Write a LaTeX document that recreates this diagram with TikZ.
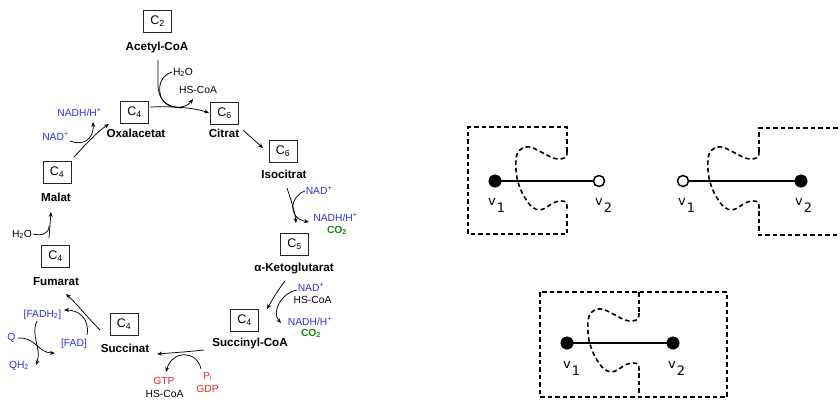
\documentclass[tikz,border=0pt]{standalone}
\usepackage{fontspec}
\setmainfont{Liberation Sans}
\newfontfamily\dejavu{DejaVu Sans}
\usetikzlibrary{arrows.meta}
\definecolor{cblue}{RGB}{45,45,235}
\definecolor{cgreen}{RGB}{20,130,20}
\definecolor{cred}{RGB}{235,35,35}
\begin{document}
\begin{tikzpicture}[x=1pt,y=-1pt,
 cbox/.style={draw=black!85,line width=0.9pt,minimum width=28pt,minimum height=22pt,inner sep=0pt,font=\fontsize{12.5}{14}\selectfont},
 mol/.style={anchor=base,inner sep=0pt,font=\fontsize{11.6}{13}\selectfont\bfseries},
 co/.style={anchor=base,inner sep=0pt,font=\fontsize{10.3}{12}\selectfont},
 cob/.style={co,text=cblue},
 cog/.style={co,text=cgreen,font=\fontsize{10.3}{12}\selectfont\bfseries},
 cor/.style={co,text=cred},
 rx/.style={line width=0.75pt,-{Stealth[length=5pt,width=4pt]}},
 rxl/.style={line width=0.75pt},
 bound/.style={line width=1.6pt,dash pattern=on 4.5pt off 3pt},
 gedge/.style={line width=1.6pt},
 vfill/.style={circle,draw,fill=black,minimum size=12.5pt,inner sep=0pt},
 vopen/.style={circle,draw,fill=white,line width=1.5pt,minimum size=11pt,inner sep=0pt},
 vlab/.style={anchor=base west,inner sep=0pt,font=\dejavu\fontsize{13}{15}\selectfont},
 wave/.pic={\draw[bound] plot[smooth,tension=0.55] coordinates {(0,-30) (-1,-24) (-7,-22) (-14,-23) (-24,-28) (-34,-33) (-42,-34) (-49,-29) (-51,-21) (-51,-11) (-50,-3) (-47,7) (-42,17) (-35,26) (-27,29) (-20,26) (-14,22) (-7,20) (-1,21) (0,26) (0,30)};}]
\useasboundingbox (0,0) rectangle (840,400);

% ---------- citric acid cycle: boxes ----------
\node[cbox] (bAc) at (157.5,21) {C\textsubscript{2}};
\node[cbox] (bOx) at (134.5,112.5) {C\textsubscript{4}};
\node[cbox] (bCi) at (224.5,113) {C\textsubscript{6}};
\node[cbox] (bIso) at (283,151.5) {C\textsubscript{6}};
\node[cbox] (bKg) at (294.5,244.5) {C\textsubscript{5}};
\node[cbox] (bSc) at (244.5,320) {C\textsubscript{4}};
\node[cbox] (bSu) at (124,324.5) {C\textsubscript{4}};
\node[cbox] (bFu) at (55.5,256.5) {C\textsubscript{4}};
\node[cbox] (bMa) at (57,172) {C\textsubscript{4}};

% ---------- molecule names ----------
\node[mol] (lAc) at (157,50) {Acetyl-CoA};
\node[mol] (lOx) at (136,137) {Oxalacetat};
\node[mol] (lCi) at (224,137) {Citrat};
\node[mol] (lIso) at (284,178) {Isocitrat};
\node[mol] (lKg) at (294,271) {α-Ketoglutarat};
\node[mol] (lSc) at (250,346) {Succinyl-CoA};
\node[mol] (lSu) at (125,352) {Succinat};
\node[mol] (lFu) at (56,285) {Fumarat};
\node[mol] (lMa) at (56,201) {Malat};

% ---------- cofactors ----------
\node[co] (h2oA) at (183,75) {H\textsubscript{2}O};
\node[co] (hsA) at (198,93) {HS-CoA};
\node[cob] (nadhA) at (79.5,116) {NADH/H\textsuperscript{+}};
\node[cob] (nadA) at (55.5,140) {NAD\textsuperscript{+}};
\node[cob] (nadB) at (319,194) {NAD\textsuperscript{+}};
\node[cob] (nadhB) at (335.5,221) {NADH/H\textsuperscript{+}};
\node[cog] (co2B) at (337,233) {CO\textsubscript{2}};
\node[cob] (nadC) at (311,291) {NAD\textsuperscript{+}};
\node[co] (hsC) at (312.5,303) {HS-CoA};
\node[cob] (nadhC) at (310,325) {NADH/H\textsuperscript{+}};
\node[cog] (co2C) at (311,336) {CO\textsubscript{2}};
\node[cor] (gtp) at (164,384) {GTP};
\node[co] (hsD) at (164.5,397) {HS-CoA};
\node[cor] (pi) at (207.5,379) {P\textsubscript{i}};
\node[cor] (gdp) at (207.5,392) {GDP};
\node[co] (h2oE) at (22,237) {H\textsubscript{2}O};
\node[cob] (fadh) at (42.5,317) {[FADH\textsubscript{2}]};
\node[cob] (fad) at (74,346) {[FAD]};
\node[cob] (q) at (11.5,340) {Q};
\node[cob] (qh) at (19,368) {QH\textsubscript{2}};

% ---------- arrow end points ----------
\coordinate (a1) at (158,60);
\coordinate (a1m) at (158,84);
\coordinate (a1e) at (182,108);
\coordinate (w1) at (172,72);
\coordinate (w1m) at (161,97);
\coordinate (w1e) at (193,99);
\coordinate (o1) at (150,107);
\coordinate (c1) at (209,113);
\coordinate (c2) at (243,130);
\coordinate (i1) at (263,148);
\coordinate (i2) at (287,188);
\coordinate (k1) at (296,223);
\coordinate (n2s) at (305,191);
\coordinate (n2e) at (309,222);
\coordinate (k2) at (285,281);
\coordinate (s1) at (267,309);
\coordinate (n3s) at (297,290);
\coordinate (n3e) at (281,323);
\coordinate (s2) at (204,350);
\coordinate (u1) at (157,354);
\coordinate (p1) at (201,369);
\coordinate (g1) at (166,372);
\coordinate (u2) at (100,330);
\coordinate (f1) at (66,294);
\coordinate (fa1) at (87,335);
\coordinate (fa2) at (64,310);
\coordinate (q1) at (18,338);
\coordinate (q2) at (55,353);
\coordinate (fh1) at (37,321);
\coordinate (fh2) at (36,365);
\coordinate (f2) at (49,238);
\coordinate (m1) at (51,212);
\coordinate (h1) at (33,234);
\coordinate (h2) at (49,226);
\coordinate (m2) at (74,157);
\coordinate (o2) at (109,124);
\coordinate (n1s) at (70,141);
\coordinate (n1e) at (93,122);

% ---------- arrows ----------
\draw[rxl] (a1) -- (a1m) .. controls (158,100) and (166,107) .. (a1e);
\draw[rx] (w1) .. controls (162,75) and (157,85) .. (w1m) .. controls (166,110) and (185,110) .. (w1e);
\draw[rx] (o1) .. controls (175,106) and (195,108) .. (c1);
\draw[rx] (c2) -- (i1);
\draw[rx] (i2) .. controls (291,200) and (295,212) .. (k1);
\draw[rx] (n2s) .. controls (290,196) and (287,218) .. (n2e);
\draw[rx] (k2) .. controls (278,290) and (272,300) .. (s1);
\draw[rx] (n3s) .. controls (282,292) and (271,312) .. (n3e);
\draw[rx] (s2) .. controls (185,352) and (170,353) .. (u1);
\draw[rx] (p1) .. controls (197,350) and (172,350) .. (g1);
\draw[rx] (u2) .. controls (88,318) and (76,303) .. (f1);
\draw[rx] (fa1) .. controls (90,318) and (78,310) .. (fa2);
\draw[rx] (q1) .. controls (36,337) and (38,353) .. (q2);
\draw[rx] (fh1) .. controls (30,335) and (42,348) .. (fh2);
\draw[rx] (f2) -- (m1);
\draw[rxl] (h1) .. controls (42,236) and (49,234) .. (h2);
\draw[rx] (m2) .. controls (85,145) and (97,132) .. (o2);
\draw[rx] (n1s) .. controls (82,146) and (94,140) .. (n1e);

% ---------- graph 1 ----------
\draw[bound] (567,151) -- (567,127) -- (468,127) -- (468,234) -- (567,234) -- (567,211);
\pic at (567,181) {wave};
\node[vfill] (g1v1) at (495,181) {};
\node[vopen] (g1v2) at (599,181) {};
\draw[gedge] (g1v1) -- (g1v2);
\node[vlab] (g1l1) at (488,205) {v\kern1pt\raisebox{-7pt}{1}};
\node[vlab] (g1l2) at (595,205) {v\kern1pt\raisebox{-7pt}{2}};

% ---------- graph 2 ----------
\draw[bound] (845,128) -- (759,128) -- (759,151);
\draw[bound] (759,211) -- (759,235) -- (845,235);
\pic at (759,181) {wave};
\node[vopen] (g2v1) at (683,181) {};
\node[vfill] (g2v2) at (801,181) {};
\draw[gedge] (g2v1) -- (g2v2);
\node[vlab] (g2l1) at (678,205) {v\kern1pt\raisebox{-7pt}{1}};
\node[vlab] (g2l2) at (795,205) {v\kern1pt\raisebox{-7pt}{2}};

% ---------- graph 3 ----------
\draw[bound] (540,292) rectangle (727,397);
\draw[bound] (639,292) -- (639,313);
\draw[bound] (639,373) -- (639,397);
\pic at (639,343) {wave};
\node[vfill] (g3v1) at (567,343) {};
\node[vfill] (g3v2) at (673,343) {};
\draw[gedge] (g3v1) -- (g3v2);
\node[vlab] (g3l1) at (563,368) {v\kern1pt\raisebox{-7pt}{1}};
\node[vlab] (g3l2) at (668,368) {v\kern1pt\raisebox{-7pt}{2}};
\end{tikzpicture}
\end{document}
